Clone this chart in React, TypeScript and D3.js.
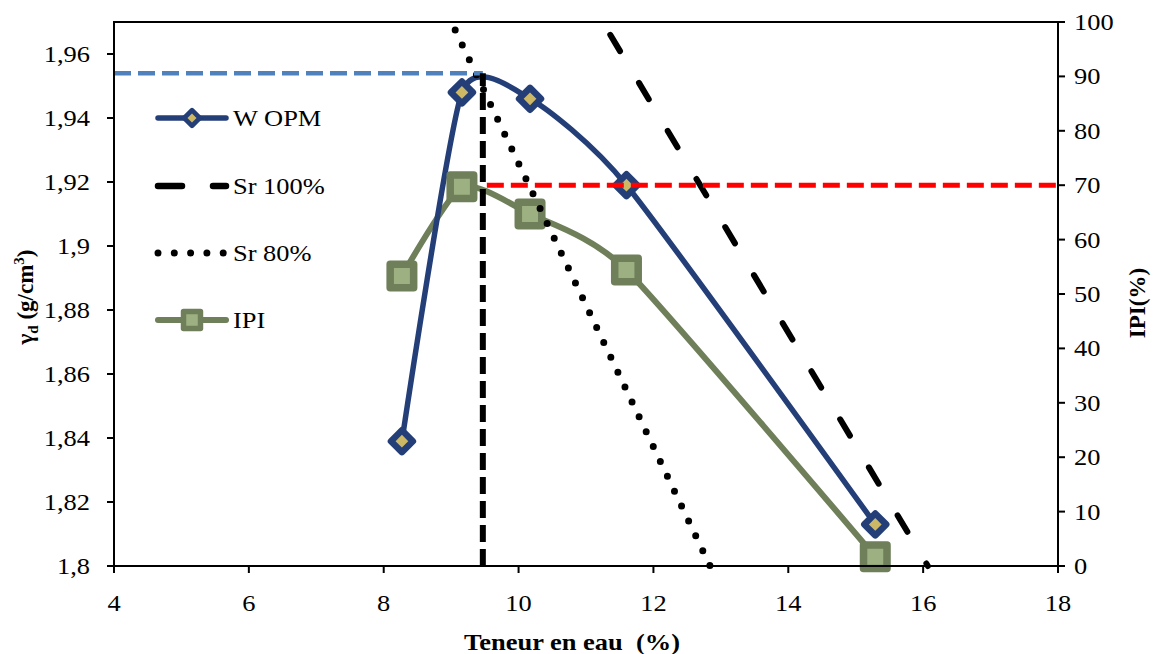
import React from 'react';
import * as d3 from 'd3';

// Compaction test: water content (%) vs dry density and immediate bearing index
const waterContent = [8.27, 9.16, 10.17, 11.6, 15.29];
const dryDensity = [1.839, 1.948, 1.946, 1.919, 1.813];
const ipiValues = [53.3, 69.7, 64.7, 54.4, 1.7];

// Saturation lines
const sr100Water = [11.36, 13.8, 16.07];
const sr100Density = [1.966, 1.88, 1.8];
const sr80Water = [9.06, 12.84];
const sr80Density = [1.9675, 1.8];

// Optimum reference values
const optimumWater = 9.47;
const maxDryDensity = 1.954;
const ipiAtOptimum = 70;

const xTicks = [4, 6, 8, 10, 12, 14, 16, 18];
const yTicks = [1.8, 1.82, 1.84, 1.86, 1.88, 1.9, 1.92, 1.94, 1.96];
const ipiTicks = [0, 10, 20, 30, 40, 50, 60, 70, 80, 90, 100];
const legendLabels = ['W OPM', 'Sr 100%', 'Sr 80%', 'IPI'];

const W = 1153;
const H = 654;
const plot = { left: 114, right: 1058, top: 22, bottom: 566 };

const BLUE = '#243F78';
const GOLD = '#CDB866';
const OLIVE = '#6E7F5A';
const OLIVE_LIGHT = '#9DB081';
const FONT = "'Liberation Serif', 'Times New Roman', serif";
const FS = 23;
const STRETCH = 1.15;

const fmt = (v: number) => String(+v.toFixed(2)).replace('.', ',');

function Label({
  x,
  y,
  anchor = 'start',
  bold = false,
  children,
}: {
  x: number;
  y: number;
  anchor?: 'start' | 'middle' | 'end';
  bold?: boolean;
  children: React.ReactNode;
}) {
  return (
    <text
      transform={`translate(${x},${y}) scale(${STRETCH},1)`}
      textAnchor={anchor}
      fontSize={FS}
      fontWeight={bold ? 'bold' : 'normal'}
      style={{ fontFamily: FONT, whiteSpace: 'pre' }}
    >
      {children}
    </text>
  );
}

function Diamond({ cx, cy, s }: { cx: number; cy: number; s: number }) {
  return (
    <rect
      x={cx - s / 2}
      y={cy - s / 2}
      width={s}
      height={s}
      transform={`rotate(45 ${cx} ${cy})`}
      fill={GOLD}
      stroke={BLUE}
      strokeWidth={s * 0.42}
      strokeLinejoin="round"
    />
  );
}

function Square({ cx, cy, s }: { cx: number; cy: number; s: number }) {
  return (
    <rect
      x={cx - s / 2}
      y={cy - s / 2}
      width={s}
      height={s}
      fill={OLIVE_LIGHT}
      stroke={OLIVE}
      strokeWidth={s * 0.32}
      strokeLinejoin="round"
    />
  );
}

// dot pattern whose period divides the segment length evenly, so the last dot lands on the end
function fitted(pts: [number, number][], dash: number, period: number) {
  let len = 0;
  for (let i = 1; i < pts.length; i++) len += Math.hypot(pts[i][0] - pts[i - 1][0], pts[i][1] - pts[i - 1][1]);
  const usable = len - dash - 0.5;
  const n = Math.max(1, Math.round(usable / period));
  const p = usable / n;
  return `${dash} ${p - dash}`;
}

export default function App() {
  const x = d3.scaleLinear().domain([4, 18]).range([plot.left, plot.right]);
  const y = d3.scaleLinear().domain([1.8, 1.97]).range([plot.bottom, plot.top]);
  const yR = d3.scaleLinear().domain([0, 100]).range([plot.bottom, plot.top]);

  const smooth = d3
    .line<[number, number]>()
    .x((d) => d[0])
    .y((d) => d[1])
    .curve(d3.curveCardinal.tension(0.4));
  const straight = d3
    .line<[number, number]>()
    .x((d) => d[0])
    .y((d) => d[1]);

  const densityPts: [number, number][] = waterContent.map((w, i) => [x(w), y(dryDensity[i])]);
  const ipiPts: [number, number][] = waterContent.map((w, i) => [x(w), yR(ipiValues[i])]);
  const sr100Pts: [number, number][] = sr100Water.map((w, i) => [x(w), y(sr100Density[i])]);
  const sr80Pts: [number, number][] = sr80Water.map((w, i) => [x(w), y(sr80Density[i])]);

  const legendX0 = 155;
  const legendX1 = 229;
  const legendRows = [118, 186, 253, 320];

  return (
    <svg
      width={W}
      height={H}
      style={{ position: 'absolute', left: 0, top: 0, background: '#fff', fontFamily: FONT }}
    >
      {/* IPI curve */}
      <path d={smooth(ipiPts) || ''} fill="none" stroke={OLIVE} strokeWidth={6} strokeLinejoin="round" />
      {/* Dry density curve */}
      <path d={smooth(densityPts) || ''} fill="none" stroke={BLUE} strokeWidth={5.5} strokeLinejoin="round" />
      {densityPts.map((p, i) => (
        <Diamond key={`d${i}`} cx={p[0]} cy={p[1]} s={15.5} />
      ))}
      {ipiPts.map((p, i) => (
        <Square key={`s${i}`} cx={p[0]} cy={p[1]} s={23.5} />
      ))}

      {/* Saturation lines */}
      <path
        d={straight(sr100Pts) || ''}
        fill="none"
        stroke="#000"
        strokeWidth={6}
        strokeDasharray="19 37"
        strokeLinecap="round"
      />
      <path
        d={straight(sr80Pts) || ''}
        fill="none"
        stroke="#000"
        strokeWidth={7}
        strokeDasharray={fitted(sr80Pts, 0, 16.5)}
        strokeLinecap="round"
      />

      {/* Optimum references */}
      <line
        x1={plot.left}
        x2={x(optimumWater)}
        y1={y(maxDryDensity)}
        y2={y(maxDryDensity)}
        stroke="#4F81BD"
        strokeWidth={4.5}
        strokeDasharray="17 7"
      />
      <line
        x1={x(optimumWater)}
        x2={x(optimumWater)}
        y1={plot.bottom}
        y2={y(maxDryDensity)}
        stroke="#000"
        strokeWidth={6}
        strokeDasharray="17 7"
      />
      <line
        x1={x(optimumWater) + 4}
        x2={plot.right}
        y1={yR(ipiAtOptimum)}
        y2={yR(ipiAtOptimum)}
        stroke="#FF0000"
        strokeWidth={5}
        strokeDasharray="17 7"
      />

      {/* Frame and axes */}
      <rect
        x={plot.left}
        y={plot.top}
        width={plot.right - plot.left}
        height={plot.bottom - plot.top}
        fill="none"
        stroke="#000"
        strokeWidth={2}
      />
      {yTicks.map((t) => (
        <g key={`yt${t}`}>
          <line x1={plot.left - 7} x2={plot.left} y1={y(t)} y2={y(t)} stroke="#000" strokeWidth={2} />
          <Label x={90} y={y(t) + 8} anchor="end">
            {fmt(t)}
          </Label>
        </g>
      ))}
      {ipiTicks.map((t) => (
        <g key={`rt${t}`}>
          <line x1={plot.right} x2={plot.right + 7} y1={yR(t)} y2={yR(t)} stroke="#000" strokeWidth={2} />
          <Label x={1074} y={yR(t) + 8}>{String(t)}</Label>
        </g>
      ))}
      {xTicks.map((t) => (
        <g key={`xt${t}`}>
          <line x1={x(t)} x2={x(t)} y1={plot.bottom} y2={plot.bottom + 7} stroke="#000" strokeWidth={2} />
          <Label x={x(t)} y={611} anchor="middle">
            {String(t)}
          </Label>
        </g>
      ))}

      {/* Axis titles */}
      <text
        transform={`translate(33, 297) rotate(-90)`}
        textAnchor="middle"
        fontSize={FS}
        fontWeight="bold"
        style={{ fontFamily: FONT }}
      >
        γ<tspan fontSize={15} dy={5}>d</tspan>
        <tspan dy={-5}> (g/cm</tspan>
        <tspan fontSize={15} dy={-9}>3</tspan>
        <tspan dy={9}>)</tspan>
      </text>
      <text
        transform={`translate(1145, 303) rotate(-90)`}
        textAnchor="middle"
        fontSize={FS}
        fontWeight="bold"
        style={{ fontFamily: FONT }}
      >
        IPI(%)
      </text>
      <Label x={572} y={650} anchor="middle" bold>
        {'Teneur en eau\u00a0 (%)'}
      </Label>

      {/* Legend */}
      <g>
        <line x1={legendX0 + 3} x2={legendX1 - 3} y1={legendRows[0]} y2={legendRows[0]} stroke={BLUE} strokeWidth={5.5} strokeLinecap="round" />
        <Diamond cx={(legendX0 + legendX1) / 2} cy={legendRows[0]} s={11} />
        <line
          x1={legendX0 + 3}
          x2={legendX1 - 3}
          y1={legendRows[1]}
          y2={legendRows[1]}
          stroke="#000"
          strokeWidth={6.5}
          strokeDasharray="24 31"
          strokeLinecap="round"
        />
        <line
          x1={legendX0 + 3}
          x2={legendX1 - 3}
          y1={legendRows[2]}
          y2={legendRows[2]}
          stroke="#000"
          strokeWidth={7}
          strokeDasharray="0 16.3"
          strokeLinecap="round"
        />
        <line x1={legendX0 + 3} x2={legendX1 - 3} y1={legendRows[3]} y2={legendRows[3]} stroke={OLIVE} strokeWidth={6} strokeLinecap="round" />
        <Square cx={(legendX0 + legendX1) / 2} cy={legendRows[3]} s={17} />
        {legendLabels.map((l, i) => (
          <Label key={l} x={233} y={legendRows[i] + 8}>
            {l}
          </Label>
        ))}
      </g>
    </svg>
  );
}
